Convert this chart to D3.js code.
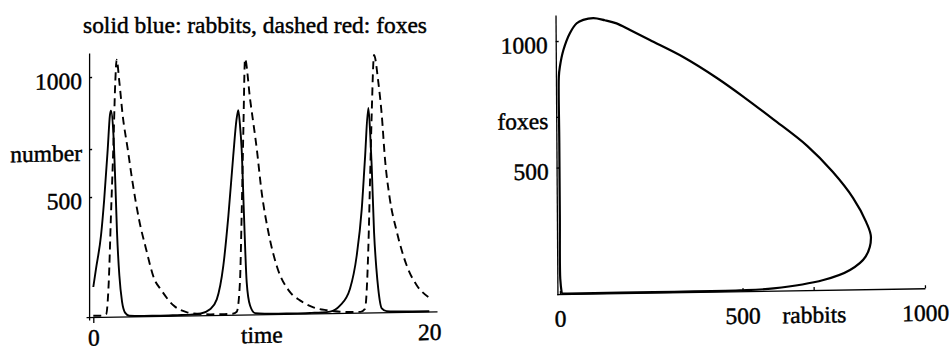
<!DOCTYPE html>
<html>
<head>
<meta charset="utf-8">
<script src="https://cdn.jsdelivr.net/npm/d3@7"></script>
<style>
  body { margin: 0; background: #fff; }
  svg { display: block; background: #fff; }
  text { font-family: 'Liberation Serif', 'Times New Roman', serif; fill: #000; stroke: #000; stroke-width: 0.45; }
  .axis text { font-size: 23.5px; }
  .axis path, .axis line { stroke: #000; stroke-width: 1.3; }
  .curve { fill: none; stroke: #000; }
</style>
</head>
<body>
<svg id="chart" width="950" height="352"></svg>
<script>
// ---- left chart: rabbits and foxes against time ----
const rabbitTime = [0, 0.16, 0.46, 0.65, 0.86, 0.99, 1.05, 1.19, 1.31, 1.41,
  1.55, 1.71, 1.9, 2.14, 3, 4, 5, 5.8, 6.35, 6.95,
  7.35, 7.74, 8.04, 8.33, 8.52, 8.63, 8.73, 8.83, 8.97, 9.13,
  9.33, 9.63, 10.2, 11, 12, 13, 13.6, 14.09, 14.68, 15.28,
  15.68, 15.98, 16.17, 16.37, 16.47, 16.57, 16.71, 16.85, 16.96, 17.17,
  17.46, 18, 19, 20];
const rabbits = [125, 200, 340, 490, 700, 840, 858, 770, 560, 354,
  172, 62, 15, 3, 1, 1, 2, 3, 6, 24,
  65, 205, 412, 662, 810, 852, 790, 690, 412, 135,
  37, 5, 2, 1, 1, 2, 3, 6, 30, 100,
  238, 432, 640, 852, 762, 612, 336, 182, 99, 16,
  4, 2, 1, 1];

const foxTime = [0, 0.4, 0.76, 0.92, 1.05, 1.19, 1.31, 1.39, 1.55, 1.75,
  2.05, 2.34, 2.74, 3.14, 3.63, 4.0, 4.8, 5.58, 6.3, 7,
  7.8, 8.3, 8.54, 8.73, 8.83, 8.93, 9.03, 9.33, 9.73, 10.02,
  10.42, 10.92, 11.71, 12.3, 13.1, 13.9, 14.68, 15.3, 15.9, 16.17,
  16.37, 16.47, 16.57, 16.71, 16.96, 17.17, 17.36, 17.65, 18.06, 18.65,
  19.25, 19.94];
const foxes = [5, 5, 10, 145, 420, 700, 980, 1070, 978, 838,
  697, 557, 397, 280, 154, 112, 41, 13, 6, 3,
  3, 4, 12, 136, 413, 760, 1065, 898, 689, 509,
  342, 200, 90, 55, 25, 12, 5, 3, 3, 15,
  265, 542, 822, 1072, 962, 822, 640, 472, 336, 194,
  110, 60];

const timeTicks = [0, 10, 20];
const timeTickLabels = ['0', 'time', '20'];
const numberTicks = [500, 700, 1000];
const numberTickLabels = ['500', 'number', '1000'];
const titleText = 'solid blue: rabbits, dashed red: foxes';

// ---- right chart: foxes against rabbits ----
const phaseRabbits = [5, 20, 256, 493, 585, 722, 795, 838, 853, 840,
  805, 750, 680, 587, 511, 434, 342, 251, 197, 160,
  128, 97, 69, 51, 32, 14, 4, 1, 1, 1,
  1, 5];
const phaseFoxes = [1, 1, 2, 3, 9, 39, 77, 129, 205, 266,
  361, 465, 570, 678, 763, 844, 929, 998, 1039, 1066,
  1079, 1088, 1082, 1069, 1030, 964, 898, 859, 600, 300,
  60, 1];

const rabbitTicks = [0, 500, 695, 1000];
const rabbitTickLabels = ['0', '500', 'rabbits', '1000'];
const foxTicks = [500, 700, 1000];
const foxTickLabels = ['500', 'foxes', '1000'];

const svg = d3.select('#chart');

// 扫描图略有倾斜, 用 skew 近似
function tilt(ox, oy, skewX, skewY) {
  return `translate(${ox},${oy}) skewX(${skewX}) skewY(${skewY}) translate(${-ox},${-oy})`;
}

function drawTimeChart() {
  const x = d3.scaleLinear().domain([0, 20]).range([93.3, 429.3]);
  const y = d3.scaleLinear().domain([0, 1000]).range([317, 77]);

  svg.append('text')
    .attr('x', 255)
    .attr('y', 33)
    .attr('text-anchor', 'middle')
    .attr('font-size', 23.5)
    .attr('textLength', 344)
    .attr('lengthAdjust', 'spacingAndGlyphs')
    .text(titleText);

  const g = svg.append('g').attr('transform', tilt(x(0), y(0), 0, -0.95));

  // x axis
  const xExtent = [-0.43, 20.46];
  const xAxisScale = x.copy().domain(xExtent).range(xExtent.map(x));
  g.append('g')
    .attr('class', 'axis')
    .attr('transform', `translate(0, ${y(0)})`)
    .call(d3.axisBottom(xAxisScale)
      .tickValues(timeTicks)
      .tickFormat((d, i) => timeTickLabels[i])
      .tickSizeInner(6)
      .tickSizeOuter(0)
      .tickPadding(6))
    .call(ax => ax.selectAll('.tick line').attr('y2', d => (d === 0 ? 6 : 0)));

  // y axis
  const yExtent = [-12, 1100];
  const yAxisScale = y.copy().domain(yExtent).range(yExtent.map(y));
  g.append('g')
    .attr('class', 'axis')
    .attr('transform', `translate(${x(-0.25)}, 0)`)
    .call(d3.axisLeft(yAxisScale)
      .tickValues(numberTicks)
      .tickFormat((d, i) => numberTickLabels[i])
      .tickSizeInner(-3)
      .tickSizeOuter(0)
      .tickPadding(7))
    .call(ax => ax.selectAll('.tick text').attr('dy', '0.48em'));

  const rabbitLine = d3.line()
    .x((d, i) => x(rabbitTime[i]))
    .y(d => y(d))
    .curve(d3.curveMonotoneX);

  const foxLine = d3.line()
    .x((d, i) => x(foxTime[i]))
    .y(d => y(d))
    .curve(d3.curveMonotoneX);

  g.append('path')
    .attr('class', 'curve')
    .attr('stroke-width', 1.9)
    .attr('d', rabbitLine(rabbits));

  g.append('path')
    .attr('class', 'curve')
    .attr('stroke-width', 1.9)
    .attr('stroke-dasharray', '8,5')
    .attr('d', foxLine(foxes));
}

function drawPhaseChart() {
  const x = d3.scaleLinear().domain([0, 1000]).range([560, 925]);
  const y = d3.scaleLinear().domain([0, 1000]).range([294, 41]);

  const g = svg.append('g').attr('transform', tilt(x(0), y(0), 0.4, -0.9));

  const xExtent = [-9, 1000];
  const xAxisScale = x.copy().domain(xExtent).range(xExtent.map(x));
  g.append('g')
    .attr('class', 'axis')
    .attr('transform', `translate(0, ${y(0)})`)
    .call(d3.axisBottom(xAxisScale)
      .tickValues(rabbitTicks)
      .tickFormat((d, i) => rabbitTickLabels[i])
      .tickSizeInner(-3)
      .tickSizeOuter(0)
      .tickPadding(16));

  const yExtent = [-3, 1103];
  const yAxisScale = y.copy().domain(yExtent).range(yExtent.map(y));
  g.append('g')
    .attr('class', 'axis')
    .attr('transform', `translate(${x(-7)}, 0)`)
    .call(d3.axisLeft(yAxisScale)
      .tickValues(foxTicks)
      .tickFormat((d, i) => foxTickLabels[i])
      .tickSizeInner(-3)
      .tickSizeOuter(0)
      .tickPadding(8))
    .call(ax => ax.selectAll('.tick text').attr('dy', '0.48em'));

  const phaseLine = d3.line()
    .x(d => x(d))
    .y((d, i) => y(phaseFoxes[i]))
    .curve(d3.curveCatmullRom.alpha(0.5));

  g.append('path')
    .attr('class', 'curve')
    .attr('stroke-width', 2.2)
    .attr('d', phaseLine(phaseRabbits));
}

drawTimeChart();
drawPhaseChart();
</script>
</body>
</html>
